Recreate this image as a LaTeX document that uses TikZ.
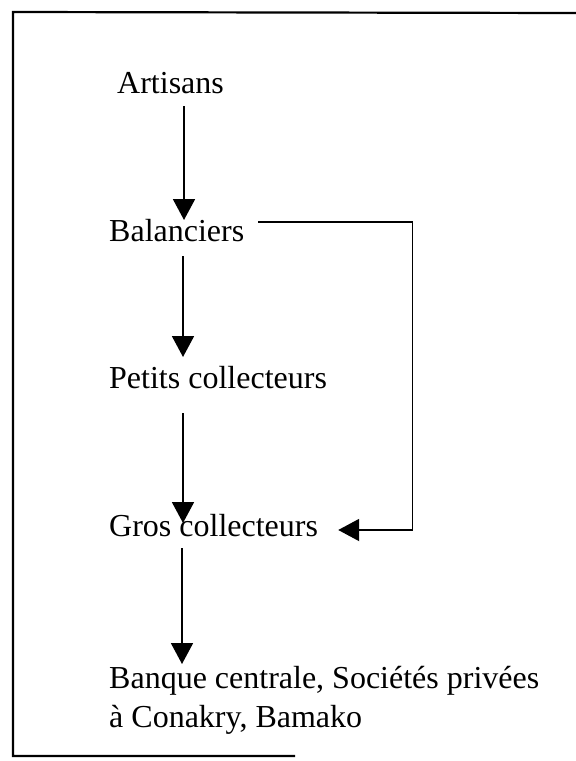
\documentclass[tikz,border=0pt]{standalone}
\usepackage{fontspec}
\setmainfont{Liberation Serif}
\usetikzlibrary{arrows.meta,calc}
\begin{document}
\begin{tikzpicture}[x=1pt,y=-1pt,
  lbl/.style={anchor=base west,inner sep=0pt,font=\fontsize{32}{38}\selectfont},
  arr/.style={line width=1.9pt,-{Triangle[width=22pt,length=21pt]}},
  frameline/.style={line width=2.2pt}]
\useasboundingbox (0,0) rectangle (576,761);
\draw[frameline] (576,13) -- (13,12) -- (13,756) -- (295,756);
\node[lbl] (art) at (117,93) {Artisans};
\node[lbl] (bal) at (109,241) {Balanciers};
\node[lbl] (pet) at (109,388) {Petits collecteurs};
\node[lbl] (gros) at (109,536) {Gros collecteurs};
\node[lbl] (ban1) at (109,688) {Banque centrale, Sociétés privées};
\node[lbl] (ban2) at (109,727) {à Conakry, Bamako};
\draw[arr] ($(art.base west)+(67,13)$) -- ($(bal.base west)+(75,-21)$);
\draw[arr] ($(bal.base west)+(74,15)$) -- ($(pet.base west)+(74,-31)$);
\draw[arr] ($(pet.base west)+(74,25)$) -- ($(gros.base west)+(74,-13)$);
\draw[arr] ($(gros.base west)+(73,12)$) -- ($(ban1.base west)+(73,-24)$);
\draw[arr] ($(bal.base east)+(14,-19)$) -- ++(154,0) |- ($(gros.base east)+(20,-6)$);
\end{tikzpicture}
\end{document}
